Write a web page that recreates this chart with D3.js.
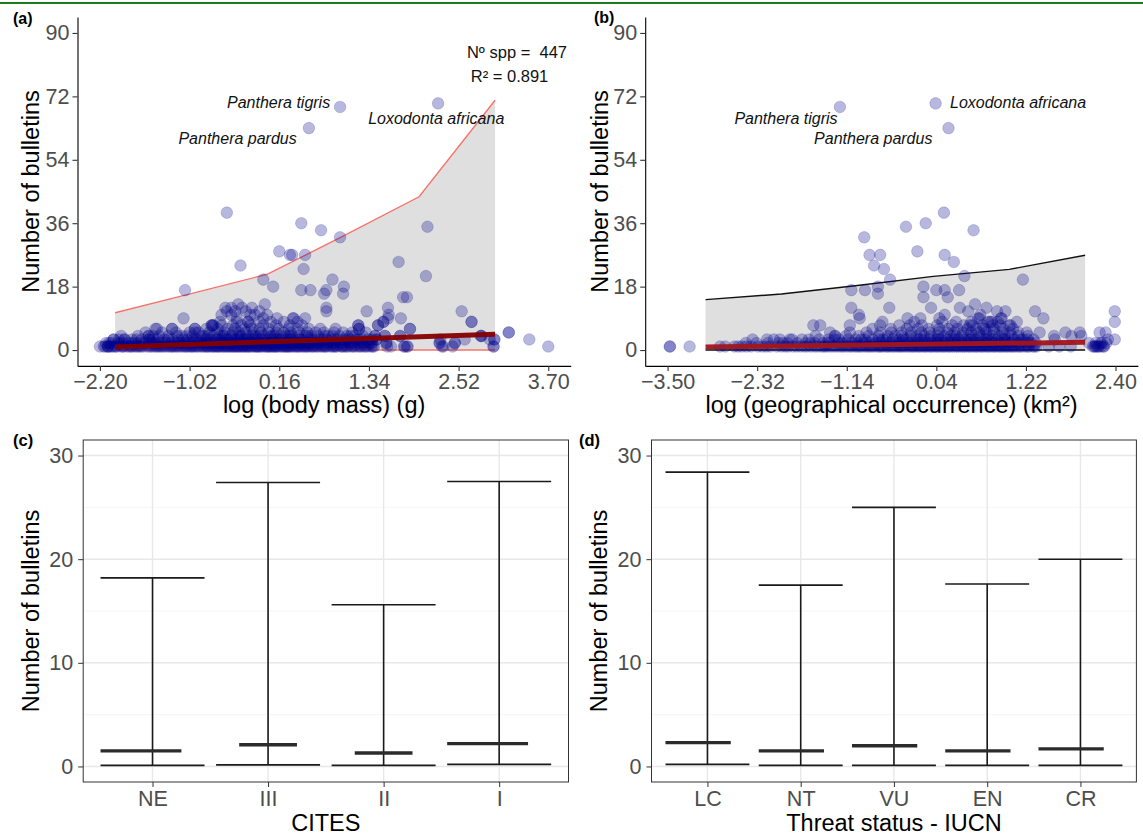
<!DOCTYPE html>
<html><head><meta charset="utf-8">
<script src="https://cdn.jsdelivr.net/npm/d3@7"></script>
<style>
body{margin:0;background:#fff}
text{font-family:"Liberation Sans",Arial,Helvetica,sans-serif}
</style>
</head><body><script>
// ---------------- DATA ----------------
const yTicksScatter = [0,18,36,54,72,90];
const massTicks = [-2.20,-1.02,0.16,1.34,2.52,3.70];
const occTicks  = [-3.50,-2.32,-1.14,0.04,1.22,2.40];

// panel (a): scattered species (log body mass, bulletins)
const massPoints = [[0.96,69],[0.55,63],[2.25,70],[-0.53,39],[0.45,36],[0.71,34],[0.96,32],[2.11,35],[0.16,28],[0.30,27],
[0.33,27],[0.50,27],[-0.35,24],[0.48,23],[1.73,25],[2.09,21],[-0.05,20],[0.86,20],[0.08,18],[-1.08,17],
[0.45,17],[0.57,17],[0.75,16],[0.78,17],[1.01,18],[1.00,16],[1.79,15],[1.84,15],[0.78,12],[0.78,11],
[1.31,11],[1.59,12],[1.59,9],[1.60,10],[1.76,9],[1.88,6],[2.56,11],[2.69,8],[2.82,4],[2.93,3],
[2.98,1],[2.27,2],[2.32,1],[2.47,2],[3.18,5],[3.45,3],[3.70,1],[-1.10,9],[-0.03,13],[-0.53,11],
[-0.47,12],[-0.33,12],[-0.20,12],[-0.16,10],[-0.47,10],[-0.22,10],[0.13,9],[0.34,9],[0.35,9],[0.50,9],
[-1.25,6],[-1.45,6],[-0.95,6],[-0.95,5],[-0.73,7],[-0.71,7],[1.20,7],[1.21,6],[1.46,7],[1.53,8],
[1.75,4],[1.81,1],[1.85,1],[1.57,2],[1.55,4],[1.42,4],[1.44,3],[-2.20,1],[-2.09,1],[-2.09,1],
[-2.02,3],[-1.87,3],[-1.56,4],[-1.55,3],[2.81,4],[2.99,3],
[-0.55,12],[-0.42,11],[-0.38,13],[-0.28,11],[-0.10,11],[-0.60,10],[-0.05,9],[0.00,10],[-0.40,9],[-0.25,8]];
// panel (a): crowded low counts, x positions per bulletin count
const massAt1 = [-2.15,-2.1,-2.06,-2.01,-1.97,-1.92,-1.9,-1.84,-1.79,-1.77,-1.71,-1.66,-1.63,-1.58,-1.52,-1.49,-1.44,-1.41,-1.36,-1.3,-1.27,-1.23,-1.18,-1.12,-1.09,-1.05,-1.0,-0.96,-0.93,-0.88,-0.85,-0.8,-0.77,-0.74,-0.7,-0.66,-0.63,-0.6,-0.56,-0.52,-0.5,-0.46,-0.43,-0.4,-0.37,-0.33,-0.3,-0.27,-0.24,-0.2,-0.17,-0.13,-0.1,-0.06,-0.03,0.01,0.04,0.08,0.11,0.15,0.18,0.22,0.26,0.29,0.33,0.36,0.4,0.44,0.47,0.51,0.55,0.58,0.62,0.67,0.7,0.75,0.79,0.83,0.88,0.92,0.97,1.01,1.06,1.1,1.15,1.19,1.24,1.28,1.33,1.37,1.41,1.58,1.63,1.8,1.84,2.3,2.44,2.98];
const massAt1b = [-2.13,-2.04,-1.99,-1.88,-1.81,-1.73,-1.68,-1.55,-1.46,-1.39,-1.33,-1.25,-1.2,-1.15,-1.07,-1.02,-0.98,-0.91,-0.83,-0.79,-0.72,-0.68,-0.64,-0.58,-0.54,-0.48,-0.44,-0.39,-0.35,-0.31,-0.26,-0.22,-0.15,-0.12,-0.08,-0.01,0.02,0.06,0.1,0.13,0.2,0.24,0.27,0.31,0.38,0.42,0.49,0.53,0.6,0.65,0.73,0.77,0.86,0.9,0.99,1.04,1.13,1.22,1.3,1.39];
const massAt2 = [-2.12,-2.05,-1.96,-1.89,-1.82,-1.74,-1.69,-1.6,-1.55,-1.47,-1.39,-1.34,-1.26,-1.2,-1.14,-1.07,-1.02,-0.95,-0.9,-0.84,-0.79,-0.72,-0.68,-0.61,-0.57,-0.53,-0.47,-0.42,-0.38,-0.32,-0.29,-0.23,-0.19,-0.14,-0.09,-0.05,0.0,0.05,0.09,0.13,0.19,0.23,0.27,0.32,0.37,0.41,0.45,0.5,0.54,0.6,0.65,0.69,0.74,0.81,0.86,0.9,0.96,1.03,1.08,1.14,1.2,1.27,1.33,1.38,1.57,2.27,2.47];
const massAt2b = [-2.08,-1.93,-1.78,-1.64,-1.51,-1.43,-1.3,-1.17,-1.1,-0.99,-0.87,-0.81,-0.74,-0.65,-0.59,-0.5,-0.45,-0.35,-0.27,-0.21,-0.12,-0.03,0.03,0.11,0.16,0.25,0.35,0.43,0.52,0.57,0.67,0.78,0.88,0.99,1.11,1.24,1.36];
const massAt3 = [-2.02,-1.88,-1.78,-1.65,-1.55,-1.44,-1.35,-1.25,-1.16,-1.04,-0.97,-0.89,-0.81,-0.74,-0.67,-0.6,-0.55,-0.49,-0.43,-0.36,-0.31,-0.25,-0.2,-0.12,-0.07,-0.01,0.06,0.12,0.17,0.24,0.3,0.35,0.43,0.48,0.56,0.63,0.7,0.78,0.85,0.93,1.0,1.09,1.17,1.25,1.33,1.44,2.28,2.6,2.99];
const massAt3b = [-1.95,-1.72,-1.5,-1.3,-1.1,-0.93,-0.78,-0.64,-0.52,-0.4,-0.28,-0.16,-0.04,0.09,0.2,0.32,0.45,0.6,0.74,0.89,1.04,1.2,1.38];
const massAt4 = [-1.92,-1.7,-1.56,-1.42,-1.3,-1.18,-1.06,-0.98,-0.86,-0.78,-0.7,-0.62,-0.55,-0.47,-0.4,-0.34,-0.26,-0.19,-0.11,-0.04,0.04,0.1,0.18,0.26,0.33,0.41,0.5,0.58,0.67,0.76,0.86,0.95,1.05,1.15,1.26,1.42,1.55,1.75,2.82];
const massAt4b = [-1.5,-1.12,-0.82,-0.58,-0.36,-0.15,0.07,0.29,0.53,0.8,1.1];
const massAt5 = [-1.6,-1.38,-1.2,-1.02,-0.9,-0.76,-0.66,-0.56,-0.45,-0.37,-0.28,-0.18,-0.08,0.02,0.12,0.22,0.31,0.42,0.53,0.64,0.75,0.88,1.0,1.12,1.3,3.18];
const massAt6 = [-1.47,-1.25,-0.95,-0.8,-0.65,-0.52,-0.42,-0.3,-0.2,-0.1,0.02,0.15,0.28,0.4,0.55,0.7,0.9,1.21,1.88];
const massAt7 = [-0.73,-0.71,-0.6,-0.45,-0.34,-0.22,-0.05,0.12,0.3,0.46,1.2,1.46];
const massAt8 = [-0.62,-0.4,-0.25,-0.1,0.05,0.22,0.4,1.53,2.69];
const massRibbonX = [-2,-1,0,1,2,3];
const massUpper = [10.6,16.0,21.5,32.3,43.5,70.9];
const massLower = [0,0,0,0,0,0];
const massFitX = [-2,3];
const massFitY = [0.9,4.5];

// panel (b): scattered species (log geographical occurrence, bulletins)
const occPoints = [[-1.23,69],[0.03,70],[0.20,63],[0.14,39],[-0.10,36],[-0.36,35],[0.53,34],[-0.91,32],[-0.84,27],[-0.70,27],
[-0.21,28],[0.15,27],[0.27,25],[-0.78,24],[-0.65,23],[-0.57,20],[0.41,21],[1.18,20],[-1.08,17],[-0.90,17],
[-0.73,16],[-0.73,18],[-0.13,18],[-0.13,15],[0.04,17],[0.15,17],[0.34,17],[0.19,15],[-0.03,12],[-1.08,12],
[-0.98,10],[-0.58,12],[-0.34,9],[-0.17,9],[-0.67,8],[-0.70,7],[0.08,9],[0.15,10],[0.35,12],[0.55,13],
[0.70,12],[0.84,11],[0.95,11],[0.59,9],[0.46,11],[0.77,8],[0.90,9],[1.34,11],[1.45,9],[1.74,5],
[1.93,5],[1.59,4],[-0.31,7],[-1.58,7],[-1.49,7],[-1.10,7],[-0.97,9],[2.39,11],[2.39,8],[2.39,3],
[2.19,5],[2.27,5],[2.05,2],[2.12,1],[2.15,1],[2.20,2],[2.25,1],[2.30,3],[2.17,1],[2.22,2],
[1.52,1],[1.66,1],[1.81,1],[-3.47,1],[-3.47,1],[-3.21,1],[-2.19,3],[-2.02,3],[-1.89,3],[-1.73,3],
[-1.36,5],[-1.29,4],[0.48,7],[0.61,9],[0.75,8],[1.02,7],[0.89,9],[0.62,10],[0.66,6],[1.23,5],
[1.40,5],[1.82,4],[1.95,4],[2.10,1],[2.14,2],[2.18,1],[2.24,1],[2.28,2],[2.13,1],[2.21,1]];
const occAt1 = [-2.81,-2.74,-2.62,-2.57,-2.46,-2.4,-2.31,-2.2,-2.15,-2.06,-1.95,-1.91,-1.8,-1.75,-1.66,-1.61,-1.52,-1.47,-1.41,-1.33,-1.29,-1.21,-1.18,-1.1,-1.07,-1.0,-0.97,-0.9,-0.87,-0.81,-0.78,-0.71,-0.69,-0.62,-0.6,-0.54,-0.51,-0.45,-0.43,-0.37,-0.34,-0.28,-0.26,-0.2,-0.18,-0.12,-0.1,-0.04,-0.02,0.04,0.06,0.12,0.14,0.2,0.22,0.28,0.31,0.36,0.39,0.44,0.47,0.52,0.55,0.6,0.63,0.68,0.71,0.76,0.79,0.84,0.87,0.92,0.95,1.0,1.03,1.08,1.12,1.17,1.21,1.26,1.31,1.36];
const occAt1b = [-2.52,-2.25,-2.0,-1.85,-1.7,-1.56,-1.44,-1.37,-1.25,-1.14,-1.03,-0.94,-0.84,-0.74,-0.66,-0.57,-0.48,-0.4,-0.31,-0.23,-0.15,-0.07,0.01,0.09,0.17,0.25,0.33,0.41,0.49,0.57,0.65,0.73,0.81,0.89,0.97,1.05,1.14,1.24,1.33];
const occAt2 = [-2.47,-2.33,-2.18,-2.04,-1.92,-1.79,-1.68,-1.56,-1.45,-1.37,-1.26,-1.16,-1.08,-0.99,-0.92,-0.84,-0.77,-0.7,-0.63,-0.56,-0.49,-0.43,-0.37,-0.31,-0.25,-0.19,-0.13,-0.07,-0.01,0.05,0.1,0.16,0.21,0.27,0.32,0.38,0.43,0.49,0.54,0.6,0.65,0.71,0.76,0.82,0.87,0.93,0.98,1.04,1.1,1.16,1.22,1.29,1.35];
const occAt2b = [-1.98,-1.62,-1.41,-1.2,-1.04,-0.88,-0.74,-0.6,-0.46,-0.34,-0.22,-0.1,0.02,0.13,0.24,0.35,0.46,0.57,0.68,0.79,0.9,1.01,1.13,1.26];
const occAt3 = [-2.38,-2.1,-1.86,-1.64,-1.5,-1.38,-1.24,-1.12,-1.02,-0.9,-0.8,-0.71,-0.62,-0.53,-0.45,-0.36,-0.28,-0.2,-0.12,-0.05,0.03,0.1,0.18,0.25,0.33,0.4,0.47,0.55,0.62,0.69,0.77,0.84,0.92,0.99,1.07,1.15,1.24,1.32,1.6];
const occAt3b = [-1.3,-0.95,-0.66,-0.4,-0.16,0.06,0.28,0.5,0.72,0.94,1.18];
const occAt4 = [-1.55,-1.3,-1.15,-0.98,-0.85,-0.72,-0.6,-0.5,-0.41,-0.3,-0.22,-0.12,-0.03,0.06,0.14,0.23,0.3,0.38,0.46,0.54,0.62,0.7,0.78,0.86,0.94,1.03,1.12,1.25];
const occAt5 = [-1.1,-0.88,-0.7,-0.55,-0.42,-0.29,-0.16,-0.05,0.07,0.18,0.28,0.39,0.5,0.6,0.7,0.8,0.91,1.01,1.12];
const occAt6 = [-0.8,-0.56,-0.35,-0.2,-0.06,0.08,0.2,0.32,0.45,0.56,0.68,0.8,0.92,1.05];
const occAt7 = [-0.45,-0.15,0.05,0.25,0.4,0.52,0.65,0.78,0.88,1.0];
const occAt8 = [-0.25,0.12,0.3,0.5,0.72,0.85,1.1];
const occRibbonX = [-3,-2,-1,0,1,2];
const occUpper = [14.3,15.9,18.3,20.9,22.9,26.9];
const occLower = [0,0,0,0,0,0];
const occFitX = [-3,2];
const occFitY = [0.9,2.2];

// panel (c): CITES
const citesCats = ["NE","III","II","I"];
const citesTop  = [18.2,27.4,15.6,27.5];
const citesMean = [1.5,2.1,1.3,2.2];
const citesLow  = [0.1,0.15,0.1,0.2];
const citesMeanFrom = [-0.45,-0.25,-0.25,-0.45];
// panel (d): IUCN
const iucnCats = ["LC","NT","VU","EN","CR"];
const iucnTop  = [28.4,17.5,25.0,17.6,20.0];
const iucnMean = [2.3,1.5,2.0,1.5,1.7];
const iucnLow  = [0.2,0.1,0.1,0.1,0.1];
const iucnMeanFrom = [-0.45,-0.45,-0.45,-0.45,-0.45];
const barTicks = [0,10,20,30];
const barMinor = [5,15,25];

// ---------------- DRAWING ----------------
const W = 1143, H = 836;
const svg = d3.select("body").append("svg").attr("width", W).attr("height", H);
const TICKC = "#4d4d4d", TICKFS = "21.5px", TITLEFS = "23.5px";

svg.append("line").attr("x1",0).attr("x2",W).attr("y1",3).attr("y2",3)
  .attr("stroke","#1f7a22").attr("stroke-width",2.2);

function levelPoints(pairs){
  const out = [];
  pairs.forEach(([lvl,a])=> a.forEach(v=> out.push([v, lvl])));
  return out;
}

function styleAxis(g){
  g.select(".domain").attr("stroke","#000").attr("stroke-width",1.1);
  g.selectAll(".tick line").attr("stroke","#333").attr("stroke-width",1.1);
  g.selectAll(".tick text").attr("fill",TICKC).style("font-size",TICKFS);
}

function scatterPanel(o){
  const x = d3.scaleLinear().domain(o.xDomain).range(o.xRange);
  const y = d3.scaleLinear().domain([-4.5,94.5]).range([365.9,17.1]);
  const g = svg.append("g");
  const rib = o.ribX.map((v,i)=>({x:v, lo:o.lower[i], hi:o.upper[i]}));
  g.append("path").datum(rib)
    .attr("d", d3.area().x(d=>x(d.x)).y0(d=>y(d.lo)).y1(d=>y(d.hi)))
    .attr("fill","#dfdfdf");
  const ln = d3.line().x(d=>x(d[0])).y(d=>y(d[1]));
  g.append("path").datum(rib.map(d=>[d.x,d.hi])).attr("d",ln)
    .attr("fill","none").attr("stroke",o.bandColor).attr("stroke-width",1.4);
  g.append("path").datum(rib.map(d=>[d.x,d.lo])).attr("d",ln)
    .attr("fill","none").attr("stroke",o.bandColor).attr("stroke-width",1.4);
  const pts = o.points.concat(levelPoints(o.levels));
  g.append("g").selectAll("circle").data(pts).join("circle")
    .attr("cx",d=>x(d[0])).attr("cy",d=>y(d[1])).attr("r",5.8)
    .attr("fill","#00008b").attr("fill-opacity",0.28)
    .attr("stroke","#00008b").attr("stroke-opacity",0.22).attr("stroke-width",0.8);
  g.append("path").datum(o.fitX.map((v,i)=>[v,o.fitY[i]])).attr("d",ln)
    .attr("fill","none").attr("stroke",o.fitColor).attr("stroke-width",5).attr("stroke-opacity",0.95);
  const ax = g.append("g").attr("transform",`translate(0,${y.range()[0]})`)
    .call(d3.axisBottom(x).tickValues(o.xTicks).tickFormat(d3.format(".2f")).tickSize(5).tickSizeOuter(0).tickPadding(3));
  styleAxis(ax);
  const ay = g.append("g").attr("transform",`translate(${x.range()[0]},0)`)
    .call(d3.axisLeft(y).tickValues(yTicksScatter).tickSize(5).tickSizeOuter(0).tickPadding(3));
  styleAxis(ay);
  g.append("text").attr("x",(o.xRange[0]+o.xRange[1])/2).attr("y",413).attr("text-anchor","middle")
    .style("font-size",TITLEFS).attr("fill","#000").text(o.xTitle);
  g.append("text").attr("transform",`translate(${o.yTitleX},${(y.range()[0]+y.range()[1])/2}) rotate(-90)`)
    .attr("text-anchor","middle").style("font-size",TITLEFS).attr("fill","#000").text("Number of bulletins");
  g.append("text").attr("x",o.tagX).attr("y",o.tagY).style("font-size","16px").style("font-weight","bold").text(o.tag);
  o.labels.forEach(l=>{
    g.append("text").attr("x",x(l.x)).attr("y",y(l.y)).attr("text-anchor",l.anchor)
      .style("font-size","16px").style("font-style","italic").attr("fill","#111").text(l.t);
  });
  return {x,y,g};
}

const pa = scatterPanel({
  xDomain:[-2.495,3.995], xRange:[77.5,570.7], xTicks:massTicks,
  points:massPoints,
  levels:[[1,massAt1],[1,massAt1b],[2,massAt2],[2,massAt2b],[3,massAt3],[3,massAt3b],[4,massAt4],[4,massAt4b],[5,massAt5],[6,massAt6],[7,massAt7],[8,massAt8]],
  ribX:massRibbonX, upper:massUpper, lower:massLower, bandColor:"#f4746c",
  fitX:massFitX, fitY:massFitY, fitColor:"#850000",
  xTitle:"log (body mass) (g)", yTitleX:39, tag:"(a)", tagX:13, tagY:24,
  labels:[{t:"Panthera tigris",x:0.83,y:68.6,anchor:"end"},
          {t:"Panthera pardus",x:0.39,y:58.4,anchor:"end"},
          {t:"Loxodonta africana",x:1.33,y:64.1,anchor:"start"}]
});
pa.g.append("text").attr("x",pa.x(2.63)).attr("y",pa.y(82.8)).style("font-size","16.5px")
  .style("white-space","pre").attr("fill","#111").text("Nº spp =  447");
pa.g.append("text").attr("x",pa.x(2.68)).attr("y",pa.y(76.0)).style("font-size","16.5px")
  .attr("fill","#111").text("R² = 0.891");

scatterPanel({
  xDomain:[-3.795,2.695], xRange:[645.2,1137.9], xTicks:occTicks,
  points:occPoints,
  levels:[[1,occAt1],[1,occAt1b],[2,occAt2],[2,occAt2b],[3,occAt3],[3,occAt3b],[4,occAt4],[5,occAt5],[6,occAt6],[7,occAt7],[8,occAt8]],
  ribX:occRibbonX, upper:occUpper, lower:occLower, bandColor:"#111",
  fitX:occFitX, fitY:occFitY, fitColor:"#a3151a",
  xTitle:"log (geographical occurrence) (km²)", yTitleX:608, tag:"(b)", tagX:594, tagY:23,
  labels:[{t:"Panthera tigris",x:-2.62,y:64.3,anchor:"start"},
          {t:"Loxodonta africana",x:0.22,y:68.6,anchor:"start"},
          {t:"Panthera pardus",x:-1.57,y:58.4,anchor:"start"}]
});

function barPanel(o){
  const x = d3.scalePoint().domain(o.cats).range(o.xRange).padding(0.6);
  const y = d3.scaleLinear().domain([-1.5,31.5]).range([782,440]);
  const st = x.step();
  const g = svg.append("g");
  const [x0,x1] = o.xRange, [y0,y1] = y.range();
  g.append("rect").attr("x",x0).attr("y",y1).attr("width",x1-x0).attr("height",y0-y1).attr("fill","#fff");
  barMinor.forEach(v=> g.append("line").attr("x1",x0).attr("x2",x1).attr("y1",y(v)).attr("y2",y(v))
    .attr("stroke","#f2f2f2").attr("stroke-width",0.8));
  barTicks.forEach(v=> g.append("line").attr("x1",x0).attr("x2",x1).attr("y1",y(v)).attr("y2",y(v))
    .attr("stroke","#e8e8e8").attr("stroke-width",1.4));
  o.cats.forEach(c=> g.append("line").attr("x1",x(c)).attr("x2",x(c)).attr("y1",y0).attr("y2",y1)
    .attr("stroke","#e8e8e8").attr("stroke-width",1.4));
  o.cats.forEach((c,i)=>{
    const cx = x(c);
    g.append("line").attr("x1",cx).attr("x2",cx).attr("y1",y(o.low[i])).attr("y2",y(o.top[i]))
      .attr("stroke","#1a1a1a").attr("stroke-width",1.6);
    [o.top[i], o.low[i]].forEach(v=> g.append("line").attr("x1",cx-0.45*st).attr("x2",cx+0.45*st)
      .attr("y1",y(v)).attr("y2",y(v)).attr("stroke","#1a1a1a").attr("stroke-width",1.6));
    g.append("line").attr("x1",cx+o.meanFrom[i]*st).attr("x2",cx+0.25*st)
      .attr("y1",y(o.mean[i])).attr("y2",y(o.mean[i])).attr("stroke","#2b2b2b").attr("stroke-width",3.4);
  });
  g.append("rect").attr("x",x0).attr("y",y1).attr("width",x1-x0).attr("height",y0-y1)
    .attr("fill","none").attr("stroke","#333").attr("stroke-width",1);
  const ax = g.append("g").attr("transform",`translate(0,${y0})`)
    .call(d3.axisBottom(x).tickSize(5).tickSizeOuter(0).tickPadding(4));
  ax.select(".domain").remove();
  ax.selectAll(".tick line").attr("stroke","#333");
  ax.selectAll(".tick text").attr("fill",TICKC).style("font-size",TICKFS);
  const ay = g.append("g").attr("transform",`translate(${x0},0)`)
    .call(d3.axisLeft(y).tickValues(barTicks).tickSize(5).tickSizeOuter(0).tickPadding(5));
  ay.select(".domain").remove();
  ay.selectAll(".tick line").attr("stroke","#333");
  ay.selectAll(".tick text").attr("fill",TICKC).style("font-size",TICKFS);
  g.append("text").attr("x",(x0+x1)/2).attr("y",830.5).attr("text-anchor","middle")
    .style("font-size",TITLEFS).text(o.xTitle);
  g.append("text").attr("transform",`translate(${o.yTitleX},${(y0+y1)/2}) rotate(-90)`)
    .attr("text-anchor","middle").style("font-size",TITLEFS).text("Number of bulletins");
  g.append("text").attr("x",o.tagX).attr("y",446).style("font-size","16.5px").style("font-weight","bold").text(o.tag);
}

barPanel({cats:citesCats, top:citesTop, mean:citesMean, low:citesLow, meanFrom:citesMeanFrom,
  xRange:[83.2,568.5], xTitle:"CITES", yTitleX:39, tag:"(c)", tagX:13});
barPanel({cats:iucnCats, top:iucnTop, mean:iucnMean, low:iucnLow, meanFrom:iucnMeanFrom,
  xRange:[651.5,1136.4], xTitle:"Threat status - IUCN", yTitleX:607, tag:"(d)", tagX:579});
</script></body></html>
